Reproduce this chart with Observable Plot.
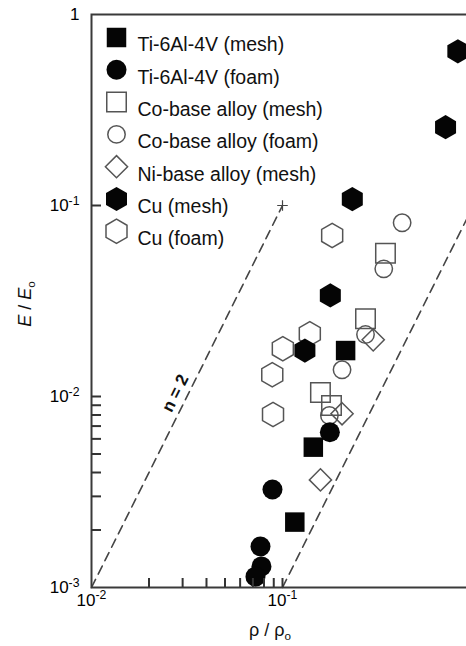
<!DOCTYPE html>
<html><head><meta charset="utf-8">
<script src="https://cdn.jsdelivr.net/npm/d3@7"></script>
<script src="https://cdn.jsdelivr.net/npm/@observablehq/plot@0.6"></script>
<style>
html,body{margin:0;padding:0;background:#fff;overflow:hidden}
</style></head><body><div id="chart"></div>
<script>
// ---- data (relative density rho/rho0, relative modulus E/E0) ----
const tiMeshRho = [0.214, 0.145, 0.116];
const tiMeshE   = [0.0174, 0.00543, 0.0022];
const tiFoamRho = [0.177, 0.0886, 0.0767, 0.0776, 0.0722];
const tiFoamE   = [0.0065, 0.00326, 0.00164, 0.00129, 0.00114];
const coMeshRho = [0.346, 0.272, 0.158, 0.1805];
const coMeshE   = [0.0563, 0.0255, 0.0105, 0.00897];
const coFoamRho = [0.423, 0.339, 0.272, 0.205, 0.176];
const coFoamE   = [0.0812, 0.0466, 0.0211, 0.0138, 0.00795];
const niMeshRho = [0.2985, 0.205, 0.158];
const niMeshE   = [0.0198, 0.00812, 0.00366];
const cuMeshRho = [0.232, 0.178, 0.131, 0.828, 0.714];
const cuMeshE   = [0.108, 0.0338, 0.0174, 0.642, 0.257];
const cuFoamRho = [0.182, 0.139, 0.1004, 0.0884, 0.0892];
const cuFoamE   = [0.0697, 0.0213, 0.0178, 0.013, 0.00805];

const seriesNames = ["Ti-6Al-4V (mesh)", "Ti-6Al-4V (foam)", "Co-base alloy (mesh)", "Co-base alloy (foam)", "Ni-base alloy (mesh)", "Cu (mesh)", "Cu (foam)"];
const seriesSymbols = ["square", "circle", "square", "circle", "diamond2", "hexagon", "hexagon"];
const seriesFilled = [true, true, false, false, false, true, false];
const seriesRho = [tiMeshRho, tiFoamRho, coMeshRho, coFoamRho, niMeshRho, cuMeshRho, cuFoamRho];
const seriesE = [tiMeshE, tiFoamE, coMeshE, coFoamE, niMeshE, cuMeshE, cuFoamE];

// n = 2 guide lines (E/E0 proportional to (rho/rho0)^2)
const guideRho = [[0.01, 0.1], [0.1, 1]];
const guideE   = [[0.001, 0.1], [0.001, 0.1]];
const guideLabel = "n = 2";
const guideLabelRho = 0.0275, guideLabelE = 0.0104;

// ticks
const xMajor = [0.01, 0.1, 1];
const xTickMarks = [0.02, 0.03, 0.04, 0.05, 0.06, 0.07, 0.08, 0.09, 0.1];
const yMajor = [0.001, 0.01, 0.1, 1];
const yTickMarks = [0.002, 0.003, 0.004, 0.005, 0.006, 0.007, 0.008, 0.009, 0.01, 0.1];

// ---- build tables ----
const FONT = "'Liberation Sans', Arial, Helvetica, sans-serif";
const symR = (sym, filled) => sym === "square" ? 11 : sym === "circle" ? (filled ? 10 : 8.7) : sym === "diamond2" ? 10 : 10.5;
const series = seriesNames.map((name, i) => ({name, symbol: seriesSymbols[i], filled: seriesFilled[i], i}));
const points = [];
series.forEach(s => seriesRho[s.i].forEach((rho, j) => points.push({series: s.name, symbol: s.symbol, filled: s.filled, rho, E: seriesE[s.i][j]})));
const guides = [];
guideRho.forEach((xs, k) => xs.forEach((x, j) => guides.push({k, rho: x, E: guideE[k][j]})));
const guideTops = guideRho.map((xs, k) => ({rho: xs[1], E: guideE[k][1]}));

const fmt = d => d === 1 ? "1" : "10^" + Math.round(Math.log10(d));

function seriesDots(s, data, opts) {
  return Plot.dot(data, {
    ...opts,
    symbol: s.symbol,
    r: symR(s.symbol, s.filled),
    fill: s.filled ? "#050505" : "none",
    stroke: s.filled ? "none" : "#555",
    strokeWidth: 1.5
  });
}
const openSeries = series.filter(s => !s.filled);
const filledSeries = series.filter(s => s.filled);
const dataMarks = [...openSeries, ...filledSeries].map(s =>
  seriesDots(s, points.filter(d => d.series === s.name), {x: "rho", y: "E"}));

const legendMarks = series.flatMap((s, i) => [
  seriesDots(s, [s], {frameAnchor: "top-left", dx: 25, dy: 23 + i * 32.3}),
  Plot.text([s], {frameAnchor: "top-left", dx: 46, dy: 23 + i * 32.3, text: "name",
    textAnchor: "start", fontSize: 19.5, fill: "#111"})
]);

const plot = Plot.plot({
  width: 466, height: 646,
  marginLeft: 91, marginTop: 14, marginBottom: 59, marginRight: -7,
  style: {fontFamily: FONT, background: "#fff", overflow: "hidden"},
  x: {type: "log", domain: [0.01, 1]},
  y: {type: "log", domain: [0.001, 1]},
  marks: [
    Plot.line(guides, {x: "rho", y: "E", z: "k", stroke: "#444", strokeWidth: 1.6, strokeDasharray: "9,6"}),
    Plot.dot(guideTops, {x: "rho", y: "E", symbol: "plus", r: 3.5, stroke: "#444", strokeWidth: 1.2}),
    Plot.text([guideLabel], {x: () => guideLabelRho, y: () => guideLabelE, text: d => d, rotate: -63.4,
      fontSize: 17, fontWeight: "bold", fill: "#111"}),
    ...dataMarks,
    ...legendMarks,
    Plot.frame({stroke: "#3a3a3a", strokeWidth: 2}),
    Plot.axisX({ticks: xMajor, tickSize: 0, tickPadding: 6, tickFormat: fmt, fontSize: 17, label: null}),
    Plot.axisX({ticks: xTickMarks, tickSize: -9, tickFormat: () => "", label: null, stroke: "#333", strokeWidth: 2}),
    Plot.axisY({ticks: yMajor, tickSize: 0, tickPadding: 12, tickFormat: fmt, fontSize: 17, label: null}),
    Plot.axisY({ticks: yTickMarks, tickSize: -10, tickFormat: () => "", label: null, stroke: "#333", strokeWidth: 2})
  ]
});

// superscripts on tick labels
const NS = "http://www.w3.org/2000/svg";
plot.querySelectorAll("text").forEach(t => {
  const m = t.textContent.match(/^10\^(.+)$/);
  if (!m) return;
  t.textContent = "";
  const a = document.createElementNS(NS, "tspan"); a.textContent = "10"; t.appendChild(a);
  const b = document.createElementNS(NS, "tspan"); b.textContent = m[1];
  b.setAttribute("dy", "-0.5em"); b.setAttribute("font-size", "0.72em"); t.appendChild(b);
});

// axis titles with subscripts
const svg = d3.select(plot);
const yl = svg.append("text").attr("transform", "translate(31,304) rotate(-90)")
  .attr("text-anchor", "middle").attr("font-size", 18).attr("font-family", FONT).attr("fill", "#111");
yl.append("tspan").attr("font-style", "italic").text("E");
yl.append("tspan").text(" / ");
yl.append("tspan").attr("font-style", "italic").text("E");
yl.append("tspan").attr("dy", "0.3em").attr("font-size", "0.65em").text("o");
const xl = svg.append("text").attr("transform", "translate(270,636)")
  .attr("text-anchor", "middle").attr("font-size", 18).attr("font-family", FONT).attr("fill", "#111");
xl.append("tspan").text("ρ / ρ");
xl.append("tspan").attr("dy", "0.3em").attr("font-size", "0.65em").text("o");

document.getElementById("chart").appendChild(plot);
</script></body></html>
